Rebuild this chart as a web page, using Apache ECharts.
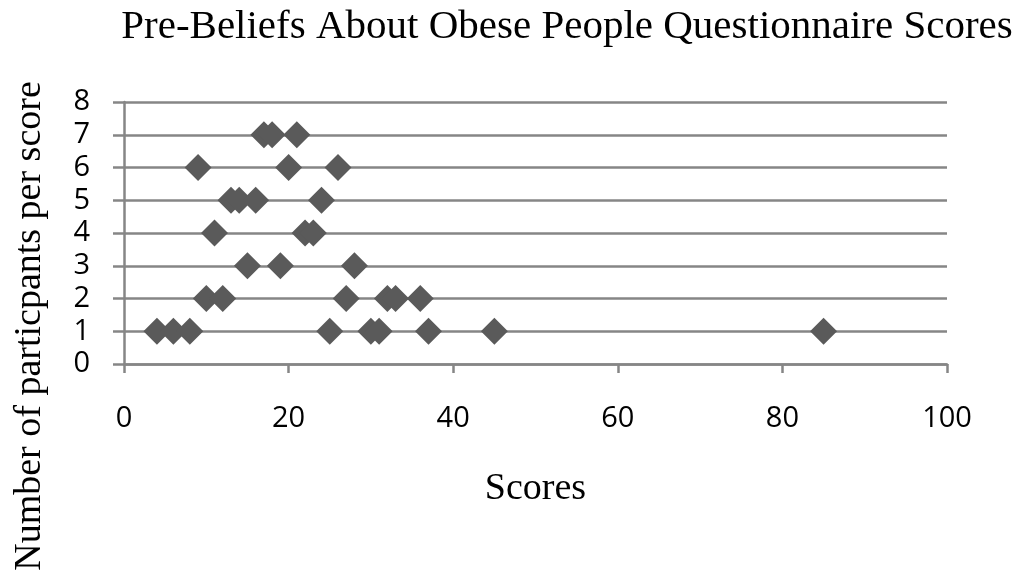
<!DOCTYPE html>
<html>
<head>
<meta charset="utf-8">
<script src="https://cdn.jsdelivr.net/npm/echarts@6/dist/echarts.min.js"></script>
<style>html,body{margin:0;padding:0;background:#fff;}#c{width:1020px;height:573px;}</style>
</head>
<body>
<div id="c"></div>
<script>
const titleText = 'Pre-Beliefs About Obese People Questionnaire Scores';
const xName = 'Scores';
const yName = 'Number of particpants per score';
const scores =       [17, 18, 21, 9, 20, 26, 13, 14, 16, 24, 11, 22, 23, 15, 19, 28, 10, 12, 27, 32, 33, 36, 4, 6, 8, 25, 30, 31, 37, 45, 85];
const participants = [7, 7, 7, 6, 6, 6, 5, 5, 5, 5, 4, 4, 4, 3, 3, 3, 2, 2, 2, 2, 2, 2, 1, 1, 1, 1, 1, 1, 1, 1, 1];

const points = scores.map((s, i) => [s, participants[i]]);
const chart = echarts.init(document.getElementById('c'));
const gray = '#868686';
chart.setOption({
  animation: false,
  backgroundColor: '#fff',
  title: {
    text: titleText,
    left: 562, top: 2, textAlign: 'center',
    textStyle: {fontFamily: 'Liberation Serif', fontSize: 41, fontWeight: 'normal', color: '#000'}
  },
  grid: {left: 124, right: 73, top: 102, bottom: 209},
  xAxis: {
    type: 'value', min: 0, max: 100, interval: 20,
    name: xName, nameLocation: 'middle', nameGap: 106,
    nameTextStyle: {fontFamily: 'Liberation Serif', fontSize: 38, color: '#000'},
    axisLine: {show: true, lineStyle: {color: gray, width: 2.5}},
    axisTick: {show: true, length: 9, lineStyle: {color: gray, width: 2.5}},
    splitLine: {show: false},
    axisLabel: {margin: 40, fontFamily: 'Open Sans', fontSize: 29, color: '#000'}
  },
  yAxis: {
    type: 'value', min: 0, max: 8, interval: 1,
    axisLine: {show: true, lineStyle: {color: gray, width: 2.5}},
    axisTick: {show: true, length: 11, lineStyle: {color: gray, width: 2.5}},
    splitLine: {show: true, lineStyle: {color: gray, width: 2.5}},
    axisLabel: {margin: 34, fontFamily: 'Open Sans', fontSize: 29, color: '#000'}
  },
  graphic: [{
    type: 'text', x: 30, y: 326, rotation: Math.PI / 2,
    style: {text: yName, fontFamily: 'Liberation Serif', fontSize: 38, fill: '#000', align: 'center', verticalAlign: 'middle'}
  }],
  series: [{
    type: 'scatter', data: points, symbol: 'diamond', symbolSize: [27, 27],
    itemStyle: {color: '#5a5a5a', opacity: 1}
  }]
});
</script>
</body>
</html>
